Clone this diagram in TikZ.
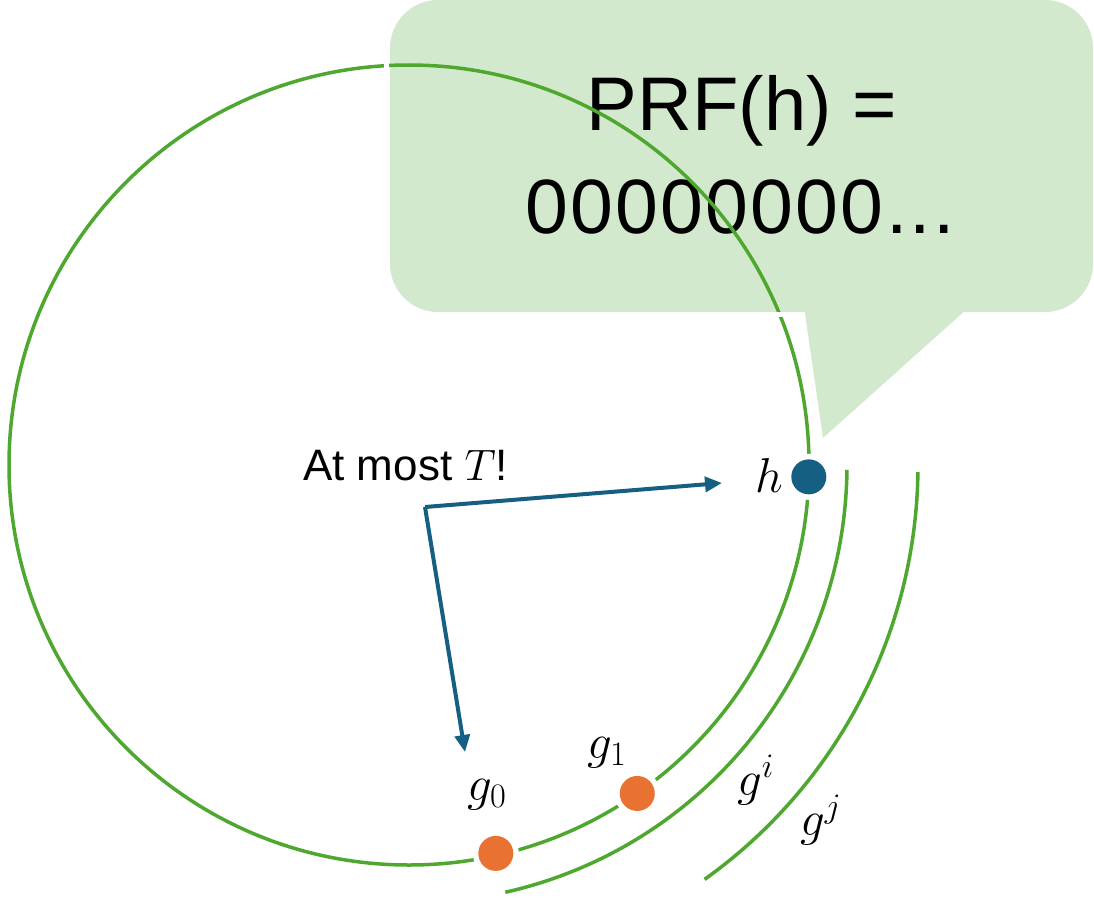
\RequirePackage{fix-cm}
\documentclass[tikz,border=0pt]{standalone}
\usepackage{fontspec}
\setmainfont{Liberation Sans}
\usetikzlibrary{arrows.meta,calc}
\definecolor{ringgreen}{HTML}{4EA72E}
\definecolor{bubblefill}{HTML}{D3E9CD}
\definecolor{hblue}{HTML}{156082}
\definecolor{gorange}{HTML}{E97132}
\tikzset{
  ring/.style={draw=ringgreen,line width=3.5pt},
  bubble/.style={fill=bubblefill,draw=none},
  dotnode/.style={circle,minimum size=35pt,inner sep=0pt,preaction={draw=white,line width=11pt}},
  arrowline/.style={draw=hblue,line width=4pt,-{Triangle[length=17pt,width=15pt]}},
  lbl/.style={inner sep=0pt,anchor=base west},
  mathlbl/.style={lbl,font=\fontsize{49}{49}\selectfont},
}
\begin{document}
\begin{tikzpicture}[x=1pt,y=-1pt]
\useasboundingbox (0,0) rectangle (1094,899);
% callout
\node[bubble,rounded corners=48pt,minimum width=703pt,minimum height=312pt,inner sep=0pt] (box) at (741.5,156) {};
\fill[bubble] (803,300) -- (977,300) -- (823,438) -- cycle;
\node[lbl,anchor=base,font=\fontsize{76}{76}\selectfont] (prf1) at (742,130) {PRF(h) =};
\node[lbl,anchor=base,font=\fontsize{77}{77}\selectfont\addfontfeature{LetterSpace=3}] (prf2) at (740,233) {00000000...};
% rings
\coordinate (o) at (409,465);
\draw[ring] (o) circle[radius=400];
\draw[ring] ($(o)+(0.65:438)$) arc[start angle=0.65,end angle=77.3,radius=438];
\draw[ring] ($(o)+(0.8:509)$) arc[start angle=0.8,end angle=54.5,radius=509];
% gaps where the ring meets the callout outline
\draw[white,line width=5pt] (386.5,45) -- (386.5,90);
\draw[white,line width=5pt] (760,314.5) -- (800,314.5);
% dots
\node[dotnode,fill=hblue] (h) at ($(o)+(1.7:400)$) {};
\node[dotnode,fill=gorange] (g1) at ($(o)+(55.2:400)$) {};
\node[dotnode,fill=gorange] (g0) at ($(o)+(77.4:398)$) {};
% labels
\node[mathlbl] (hl) at (755,492) {$h$};
\node[mathlbl] (g0l) at (467,800) {$g_0$};
\node[mathlbl] (g1l) at (587,758) {$g_1$};
\node[mathlbl] (gil) at (737,795) {$g^i$};
\node[mathlbl] (gjl) at (800,835) {$g^j$};
\node[lbl,font=\fontsize{44}{44}\selectfont] (most) at (303,480) {At most $T$!};
% arrows
\coordinate (c) at (425,507);
\coordinate (ha) at (722,483);
\coordinate (ga) at (465,752);
\draw[arrowline] (c) -- (ha);
\draw[arrowline] (c) -- (ga);
\end{tikzpicture}
\end{document}
